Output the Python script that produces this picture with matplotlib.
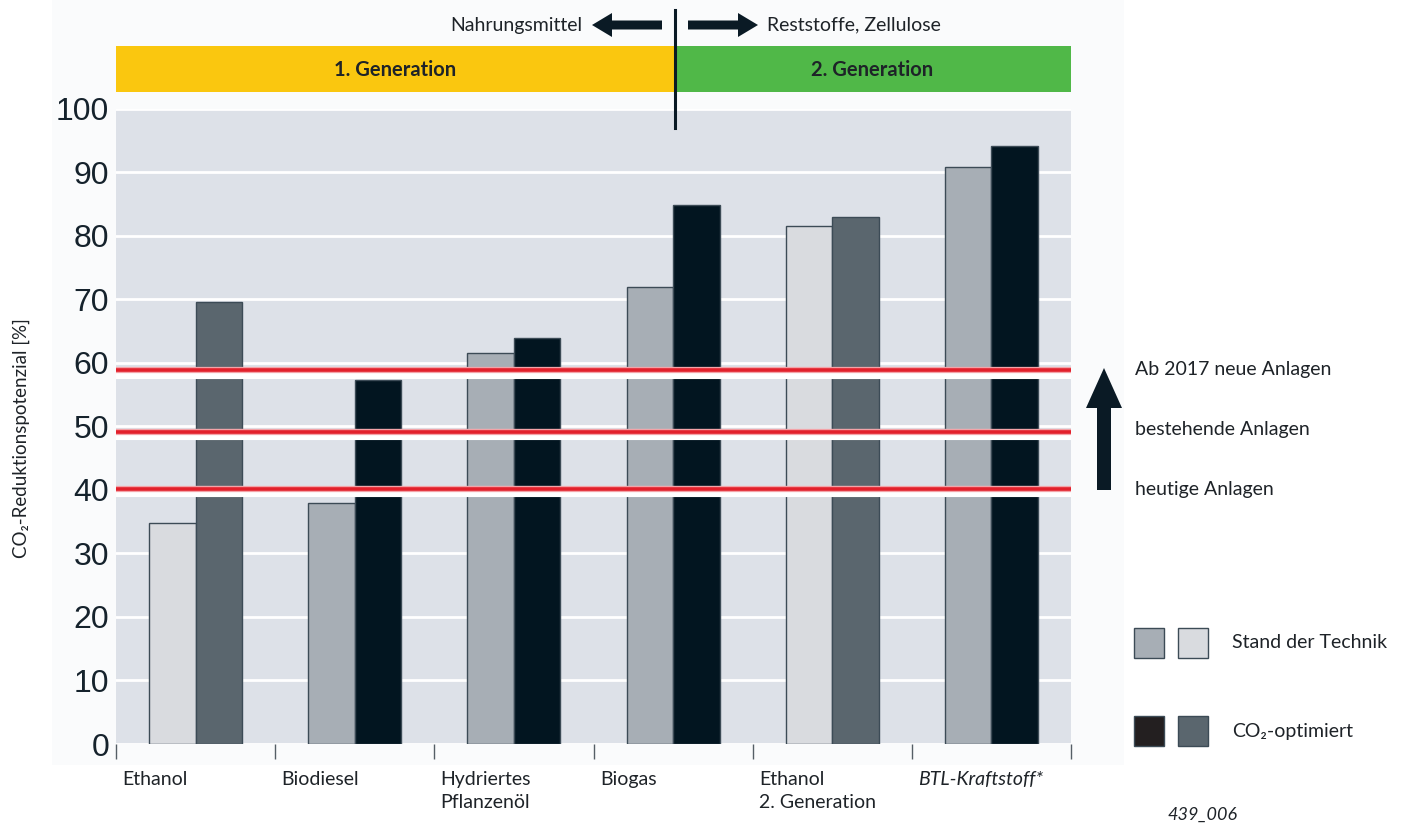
import numpy as np
import matplotlib.pyplot as plt
from matplotlib.patches import Rectangle, FancyArrow

# ------------------------------------------------------------
# Daten
# ------------------------------------------------------------
kraftstoffe = ["Ethanol", "Biodiesel", "Hydriertes\nPflanzenöl", "Biogas",
               "Ethanol\n2. Generation", "BTL-Kraftstoff*"]
stand_der_technik = [34.8, 38.0, 61.5, 71.9, 81.5, 90.9]
co2_optimiert = [69.5, 57.3, 63.9, 84.9, 83.0, 94.2]
grenzwerte = [58.8, 49.1, 40.2]
grenzwert_texte = ["Ab 2017 neue Anlagen", "bestehende Anlagen", "heutige Anlagen"]
y_ticks = [0, 10, 20, 30, 40, 50, 60, 70, 80, 90, 100]

# Farben
HELL = "#D9DBDF"
MITTEL = "#A7AEB5"
SCHIEFER = "#5A666E"
DUNKEL = "#021520"
KANTE = "#3C4B56"
stand_farben = [HELL, MITTEL, MITTEL, MITTEL, HELL, MITTEL]
opt_farben = [SCHIEFER, DUNKEL, DUNKEL, DUNKEL, SCHIEFER, DUNKEL]
TEXT = "#1E2328"
ZAHLEN = "#15222C"
PFEIL = "#0A1A25"

FONT = ["Lato", "DejaVu Sans"]

W, H = 1402, 825
fig = plt.figure(figsize=(W / 100, H / 100), dpi=100)
fig.patch.set_facecolor("white")

# Hintergrund-Ebene in Pixelkoordinaten
bg = fig.add_axes([0, 0, 1, 1], zorder=-1)
bg.set_xlim(0, W)
bg.set_ylim(H, 0)
bg.axis("off")
bg.add_patch(Rectangle((52, 0), 1124 - 52, 765, facecolor="#FAFBFC", edgecolor="none"))

# ------------------------------------------------------------
# Balkendiagramm
# ------------------------------------------------------------
x0, x1 = 116, 1071
yb, yt = 744, 108.7
ax = fig.add_axes([x0 / W, 1 - yb / H, (x1 - x0) / W, (yb - yt) / H])
ax.set_facecolor("#DDE1E8")

n = len(kraftstoffe)
x = np.arange(n) + 0.5
bw = 0.292

ax.bar(x - bw / 2, stand_der_technik, bw, color=stand_farben,
       edgecolor=KANTE, linewidth=1.0, zorder=3)
ax.bar(x + bw / 2, co2_optimiert, bw, color=opt_farben,
       edgecolor=KANTE, linewidth=1.0, zorder=3)

ax.set_xlim(0, n)
ax.set_ylim(0, 100)
ax.set_yticks(y_ticks)
ax.set_yticklabels([str(v) for v in y_ticks], fontsize=23,
                   family="Liberation Sans", color=ZAHLEN)
ax.tick_params(axis="y", length=0, pad=5)
ax.grid(axis="y", color="white", linewidth=2, zorder=1)
ax.set_axisbelow(True)
for s in ax.spines.values():
    s.set_visible(False)

ax.set_xticks(range(n + 1))
ax.set_xticklabels([])
ax.tick_params(axis="x", length=11, width=1.0, color="#555E66", direction="out")

# Kategorien unter der Achse
for i, name in enumerate(kraftstoffe):
    style = "italic" if name.startswith("BTL") else "normal"
    ax.text(i + 0.04, -4.2, name, ha="left", va="top", fontsize=14,
            family=FONT, color=TEXT, style=style, linespacing=1.45)

# Grenzwertlinien mit weißem Rand
for g in grenzwerte:
    ax.axhline(g - 0.35, color="white", linewidth=8, zorder=4)
    ax.axhline(g, color="#F3A3A8", linewidth=4.5, zorder=5)
    ax.axhline(g, color="#E2202B", linewidth=2.6, zorder=6)

# ------------------------------------------------------------
# Beschriftungen über und neben dem Diagramm (Pixelkoordinaten)
# ------------------------------------------------------------
fg = fig.add_axes([0, 0, 1, 1], zorder=5)
fg.set_xlim(0, W)
fg.set_ylim(H, 0)
fg.axis("off")

fg.text(21, 438, "CO₂-Reduktionspotenzial [%]", rotation=90, ha="center",
        va="center", fontsize=13.5, family=FONT, color=TEXT)

fg.add_patch(Rectangle((116, 46), 675 - 116, 46, facecolor="#FAC70F", edgecolor="none"))
fg.add_patch(Rectangle((675, 46), 1071 - 675, 46, facecolor="#50B848", edgecolor="none"))
fg.text(395, 70, "1. Generation", ha="center", va="center", fontsize=14.5,
        weight="bold", family=FONT, color=TEXT)
fg.text(872, 70, "2. Generation", ha="center", va="center", fontsize=14.5,
        weight="bold", family=FONT, color=TEXT)
fg.plot([675, 675], [10, 128], color=PFEIL, linewidth=2.2)

fg.add_patch(FancyArrow(662, 25, -70, 0, width=9, head_width=24, head_length=20,
                        length_includes_head=True, color=PFEIL, linewidth=0))
fg.add_patch(FancyArrow(688, 25, 70, 0, width=9, head_width=24, head_length=20,
                        length_includes_head=True, color=PFEIL, linewidth=0))
fg.text(582, 25, "Nahrungsmittel", ha="right", va="center", fontsize=14,
        family=FONT, color=TEXT)
fg.text(767, 25, "Reststoffe, Zellulose", ha="left", va="center", fontsize=14,
        family=FONT, color=TEXT)

# Pfeil nach oben und Anlagentexte
fg.add_patch(FancyArrow(1104, 490, 0, -122, width=14, head_width=36, head_length=40,
                        length_includes_head=True, color=PFEIL, linewidth=0))
for ty, t in zip([369, 429, 490], grenzwert_texte):
    fg.text(1135, ty, t, ha="left", va="center", fontsize=14, family=FONT, color=TEXT)

# Legende
legende = [([MITTEL, HELL], "Stand der Technik", 628),
           (["#231F20", SCHIEFER], "CO₂-optimiert", 716)]
for farben, label, ly in legende:
    for lx, c in zip([1134, 1178], farben):
        fg.add_patch(Rectangle((lx, ly), 30, 30, facecolor=c, edgecolor=KANTE, linewidth=1))
    fg.text(1232, ly + 15, label, ha="left", va="center", fontsize=14,
            family=FONT, color=TEXT)

fg.text(1168, 815, "439_006", ha="left", va="center", fontsize=13,
        style="italic", family=FONT, color=TEXT)

fig.savefig("out.png", dpi=100)
